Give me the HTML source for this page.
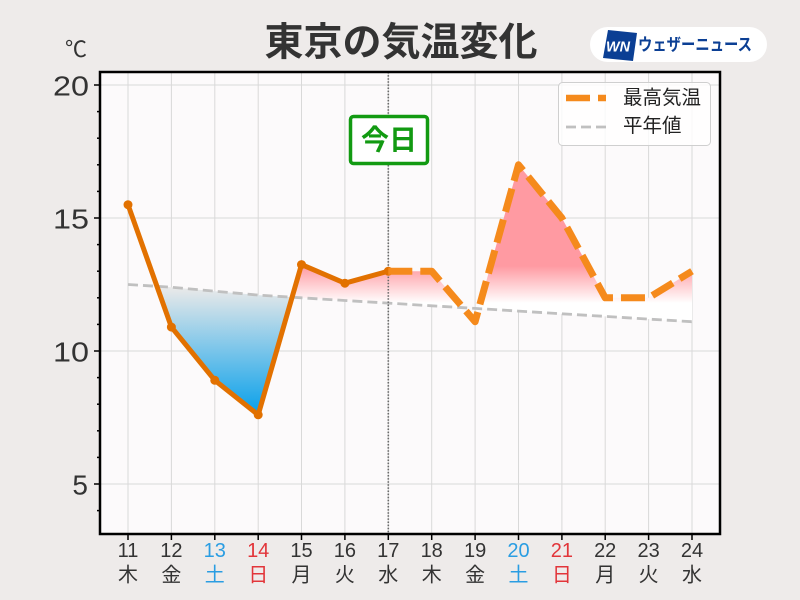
<!DOCTYPE html>
<html><head><meta charset="utf-8">
<style>
html,body{margin:0;padding:0;background:#eeebea;}
svg{display:block;}
</style></head>
<body>
<svg width="800" height="600" viewBox="0 0 800 600" xmlns="http://www.w3.org/2000/svg">
<defs>
<linearGradient id="red" gradientUnits="userSpaceOnUse" x1="0" y1="266" x2="0" y2="303">
<stop offset="0" stop-color="#ff9aa2"/>
<stop offset="1" stop-color="#ffffff"/>
</linearGradient>
<linearGradient id="blue" gradientUnits="userSpaceOnUse" x1="0" y1="288" x2="0" y2="414">
<stop offset="0" stop-color="#e9e9e9"/>
<stop offset="1" stop-color="#08a0ea"/>
</linearGradient>
</defs>
<rect x="0" y="0" width="800" height="600" fill="#eeebea"/>
<!-- title -->
<text x="401" y="43" text-anchor="middle" dominant-baseline="central" font-family="'Liberation Sans','Noto Sans CJK JP',sans-serif" font-weight="bold" font-size="39" fill="#333">東京の気温変化</text>
<text x="76" y="48" text-anchor="middle" dominant-baseline="central" font-family="'Noto Sans CJK JP',sans-serif" font-size="22" fill="#333">℃</text>
<!-- logo -->
<rect x="590" y="27" width="177" height="35" rx="17.5" fill="#ffffff"/>
<polygon points="608,30 637,33 633,61 603,58" fill="#0b3f94"/>
<text x="618" y="47" text-anchor="middle" dominant-baseline="central" font-family="'Liberation Sans',sans-serif" font-weight="bold" font-style="italic" font-size="15" fill="#ffffff" textLength="24" lengthAdjust="spacingAndGlyphs">WN</text>
<text x="638" y="45" dominant-baseline="central" font-family="'Liberation Sans','Noto Sans CJK JP',sans-serif" font-weight="bold" font-size="17" fill="#0b3f94" textLength="114" lengthAdjust="spacingAndGlyphs">ウェザーニュース</text>
<!-- plot bg -->
<rect x="100" y="72" width="620" height="462" fill="#fcfafb"/>
<!-- grid -->
<g stroke="#d9d9d9" stroke-width="1">
<line x1="128" y1="72" x2="128" y2="534"/>
<line x1="171.4" y1="72" x2="171.4" y2="534"/>
<line x1="214.8" y1="72" x2="214.8" y2="534"/>
<line x1="258.2" y1="72" x2="258.2" y2="534"/>
<line x1="301.5" y1="72" x2="301.5" y2="534"/>
<line x1="344.9" y1="72" x2="344.9" y2="534"/>
<line x1="388.3" y1="72" x2="388.3" y2="534"/>
<line x1="431.7" y1="72" x2="431.7" y2="534"/>
<line x1="475.1" y1="72" x2="475.1" y2="534"/>
<line x1="518.5" y1="72" x2="518.5" y2="534"/>
<line x1="561.9" y1="72" x2="561.9" y2="534"/>
<line x1="605.2" y1="72" x2="605.2" y2="534"/>
<line x1="648.6" y1="72" x2="648.6" y2="534"/>
<line x1="692" y1="72" x2="692" y2="534"/>
<line x1="100" y1="85" x2="720" y2="85"/>
<line x1="100" y1="218" x2="720" y2="218"/>
<line x1="100" y1="351" x2="720" y2="351"/>
<line x1="100" y1="484" x2="720" y2="484"/>
</g>
<!-- fills -->
<polygon fill="url(#blue)" points="156.9,286.3 171.4,327.1 214.8,380.3 258.2,414.8 292.1,297.2 258.2,295.1 214.8,291.2 171.4,287.2"/>
<polygon fill="url(#red)" points="292.1,297.2 301.5,264.6 344.9,283.2 388.3,271.2 431.7,271.2 463,307.7 431.7,305.8 388.3,303.1 344.9,300.5 301.5,297.8"/>
<polygon fill="url(#red)" points="478.7,308.6 518.5,164.8 561.9,218 605.2,297.8 648.6,297.8 692,271.2 692,321.7 648.6,319.1 605.2,316.4 561.9,313.8 518.5,311.1"/>
<!-- normal line -->
<polyline fill="none" stroke="#c0c0c0" stroke-width="2.8" stroke-dasharray="10 5" points="128,284.5 171.4,287.2 214.8,291.2 258.2,295.1 301.5,297.8 344.9,300.5 388.3,303.1 431.7,305.8 475.1,308.4 518.5,311.1 561.9,313.8 605.2,316.4 648.6,319.1 692,321.7"/>
<!-- today line -->
<line x1="388.3" y1="72" x2="388.3" y2="534" stroke="#6a6a6a" stroke-width="1.6" stroke-dasharray="1.5 1.6"/>
<!-- max solid -->
<polyline fill="none" stroke="#e27100" stroke-width="5" stroke-linejoin="round" points="128,204.7 171.4,327.1 214.8,380.3 258.2,414.8 301.5,264.6 344.9,283.2 388.3,271.2"/>
<g fill="#e27100">
<circle cx="128" cy="204.7" r="4.5"/>
<circle cx="171.4" cy="327.1" r="4.5"/>
<circle cx="214.8" cy="380.3" r="4.5"/>
<circle cx="258.2" cy="414.8" r="4.5"/>
<circle cx="301.5" cy="264.6" r="4.5"/>
<circle cx="344.9" cy="283.2" r="4.5"/>
<circle cx="388.3" cy="271.2" r="4.5"/>
</g>
<!-- max dashed -->
<polyline fill="none" stroke="#f58a1c" stroke-width="7" stroke-linejoin="round" stroke-dasharray="24 8" points="388.3,271.2 431.7,271.2 475.1,321.7 518.5,164.8 561.9,218 605.2,297.8 648.6,297.8 692,271.2"/>
<!-- today box -->
<rect x="350.5" y="116.5" width="77" height="47" rx="3" fill="#ffffff" stroke="#129a12" stroke-width="3.5"/>
<text x="389" y="140" text-anchor="middle" dominant-baseline="central" font-family="'Liberation Sans','Noto Sans CJK JP',sans-serif" font-weight="bold" font-size="28" fill="#129a12">今日</text>
<!-- legend -->
<rect x="558.5" y="82.5" width="152" height="63" rx="4" fill="#ffffff" fill-opacity="0.8" stroke="#cfcfcf" stroke-width="1"/>
<line x1="566" y1="98" x2="606" y2="98" stroke="#f58a1c" stroke-width="6.5" stroke-dasharray="24 8"/>
<line x1="566" y1="127" x2="606" y2="127" stroke="#c0c0c0" stroke-width="2.8" stroke-dasharray="10 5"/>
<text x="623" y="98" dominant-baseline="central" font-family="'Liberation Sans','Noto Sans CJK JP',sans-serif" font-size="19.5" fill="#222">最高気温</text>
<text x="623" y="126" dominant-baseline="central" font-family="'Liberation Sans','Noto Sans CJK JP',sans-serif" font-size="19.5" fill="#222">平年値</text>
<!-- axes border -->
<rect x="100" y="72" width="620" height="462" fill="none" stroke="#000" stroke-width="2.5"/>
<!-- y ticks -->
<g stroke="#000" stroke-width="1.5">
<line x1="94" y1="85" x2="100" y2="85"/>
<line x1="94" y1="218" x2="100" y2="218"/>
<line x1="94" y1="351" x2="100" y2="351"/>
<line x1="94" y1="484" x2="100" y2="484"/>
<line x1="97" y1="111.6" x2="100" y2="111.6"/>
<line x1="97" y1="138.2" x2="100" y2="138.2"/>
<line x1="97" y1="164.8" x2="100" y2="164.8"/>
<line x1="97" y1="191.4" x2="100" y2="191.4"/>
<line x1="97" y1="244.6" x2="100" y2="244.6"/>
<line x1="97" y1="271.2" x2="100" y2="271.2"/>
<line x1="97" y1="297.8" x2="100" y2="297.8"/>
<line x1="97" y1="324.4" x2="100" y2="324.4"/>
<line x1="97" y1="377.6" x2="100" y2="377.6"/>
<line x1="97" y1="404.2" x2="100" y2="404.2"/>
<line x1="97" y1="430.8" x2="100" y2="430.8"/>
<line x1="97" y1="457.4" x2="100" y2="457.4"/>
<line x1="97" y1="510.6" x2="100" y2="510.6"/>
</g>
<g font-family="'Liberation Sans',sans-serif" font-size="28" fill="#333" text-anchor="end" dominant-baseline="central">
<text x="89" y="86" textLength="36" lengthAdjust="spacingAndGlyphs">20</text>
<text x="89" y="219" textLength="36" lengthAdjust="spacingAndGlyphs">15</text>
<text x="89" y="352" textLength="36" lengthAdjust="spacingAndGlyphs">10</text>
<text x="88" y="485">5</text>
</g>
<!-- x ticks -->
<g stroke="#000" stroke-width="1.5">
<line x1="128" y1="534" x2="128" y2="540"/>
<line x1="171.4" y1="534" x2="171.4" y2="540"/>
<line x1="214.8" y1="534" x2="214.8" y2="540"/>
<line x1="258.2" y1="534" x2="258.2" y2="540"/>
<line x1="301.5" y1="534" x2="301.5" y2="540"/>
<line x1="344.9" y1="534" x2="344.9" y2="540"/>
<line x1="388.3" y1="534" x2="388.3" y2="540"/>
<line x1="431.7" y1="534" x2="431.7" y2="540"/>
<line x1="475.1" y1="534" x2="475.1" y2="540"/>
<line x1="518.5" y1="534" x2="518.5" y2="540"/>
<line x1="561.9" y1="534" x2="561.9" y2="540"/>
<line x1="605.2" y1="534" x2="605.2" y2="540"/>
<line x1="648.6" y1="534" x2="648.6" y2="540"/>
<line x1="692" y1="534" x2="692" y2="540"/>
</g>
<g font-family="'Liberation Sans',sans-serif" font-size="20" text-anchor="middle" dominant-baseline="central" fill="#333">
<text x="128" y="551">11</text>
<text x="171.4" y="551">12</text>
<text x="214.8" y="551" fill="#2a9de2">13</text>
<text x="258.2" y="551" fill="#e2353a">14</text>
<text x="301.5" y="551">15</text>
<text x="344.9" y="551">16</text>
<text x="388.3" y="551">17</text>
<text x="431.7" y="551">18</text>
<text x="475.1" y="551">19</text>
<text x="518.5" y="551" fill="#2a9de2">20</text>
<text x="561.9" y="551" fill="#e2353a">21</text>
<text x="605.2" y="551">22</text>
<text x="648.6" y="551">23</text>
<text x="692" y="551">24</text>
</g>
<g font-family="'Noto Sans CJK JP',sans-serif" font-size="20" text-anchor="middle" dominant-baseline="central" fill="#333">
<text x="128" y="573">木</text>
<text x="171.4" y="573">金</text>
<text x="214.8" y="573" fill="#2a9de2">土</text>
<text x="258.2" y="573" fill="#e2353a">日</text>
<text x="301.5" y="573">月</text>
<text x="344.9" y="573">火</text>
<text x="388.3" y="573">水</text>
<text x="431.7" y="573">木</text>
<text x="475.1" y="573">金</text>
<text x="518.5" y="573" fill="#2a9de2">土</text>
<text x="561.9" y="573" fill="#e2353a">日</text>
<text x="605.2" y="573">月</text>
<text x="648.6" y="573">火</text>
<text x="692" y="573">水</text>
</g>
</svg>
</body></html>
